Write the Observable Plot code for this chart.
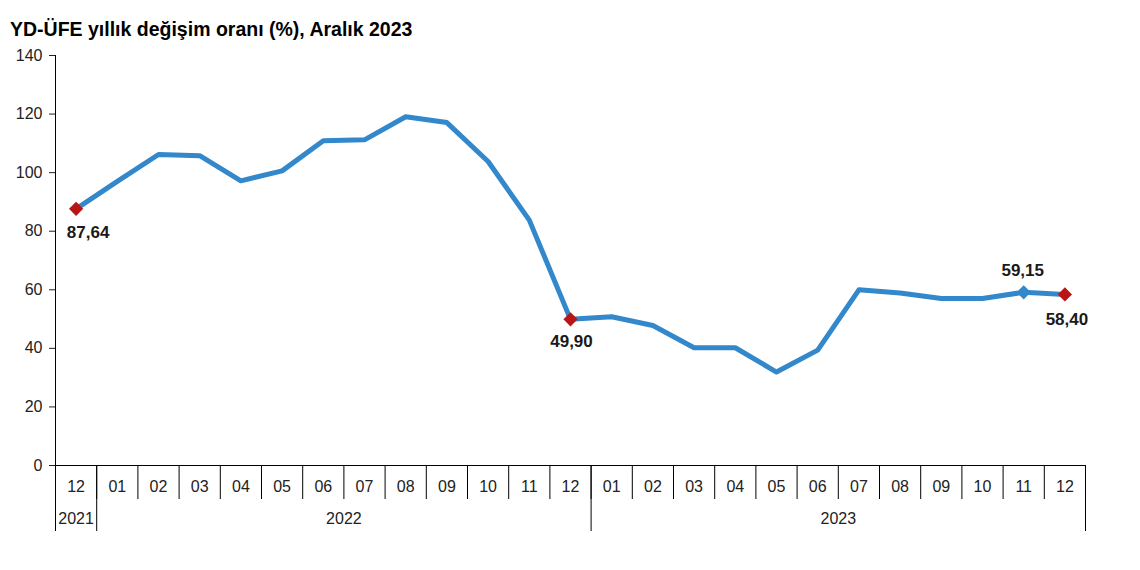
<!DOCTYPE html>
<html>
<head>
<meta charset="utf-8">
<script src="https://cdn.jsdelivr.net/npm/d3@7"></script>
<script src="https://cdn.jsdelivr.net/npm/@observablehq/plot@0.6"></script>
<style>
  body { margin: 0; background: #fff; font-family: "Liberation Sans", Arial, sans-serif; }
  #title { height: 40px; box-sizing: border-box; padding: 18px 0 0 10px; font-weight: bold; font-size: 19.5px; line-height: 22px; color: #000; }
</style>
</head>
<body>
<div id="title">YD-ÜFE yıllık değişim oranı (%), Aralık 2023</div>
<div id="chart"></div>
<script>
// Data
const months = ["12","01","02","03","04","05","06","07","08","09","10","11","12",
                "01","02","03","04","05","06","07","08","09","10","11","12"];
const years = ["2021","2022","2022","2022","2022","2022","2022","2022","2022","2022","2022","2022","2022",
               "2023","2023","2023","2023","2023","2023","2023","2023","2023","2023","2023","2023"];
const values = [87.64, 97.0, 106.2, 105.8, 97.2, 100.6, 110.9, 111.2, 119.1, 117.1, 103.8, 83.8, 49.90,
                50.8, 47.8, 40.2, 40.2, 31.9, 39.4, 60.0, 58.9, 57.0, 57.0, 59.15, 58.40];
const yTicks = [0, 20, 40, 60, 80, 100, 120, 140];
// Highlighted points and their labels
const highlightIdx = [0, 12, 23, 24];
const highlightLabels = ["87,64", "49,90", "59,15", "58,40"];
const highlightKind = ["red", "red", "blue", "red"];

const data = months.map((m, i) => ({i, month: m, year: years[i], value: values[i]}));

const RED = "#B91515", BLUE = "#3288CA";
const labelOffsets = [{dx: 12, dy: 24}, {dx: 1, dy: 22}, {dx: -1, dy: -22}, {dx: 2, dy: 25}];
const highlights = highlightIdx.map((idx, k) => ({
  i: idx, value: values[idx], label: highlightLabels[k],
  fill: highlightKind[k] === "red" ? RED : BLUE, ...labelOffsets[k]
}));

// Separators of the category table
const monthBounds = data.map(d => d.i - 0.5).concat([data.length - 0.5]);
const yearBounds = [-0.5];
data.forEach((d, k) => { if (k > 0 && d.year !== data[k - 1].year) yearBounds.push(d.i - 0.5); });
yearBounds.push(data.length - 0.5);
const yearGroups = Array.from(d3.group(data, d => d.year), ([year, arr]) => ({year, i: d3.mean(arr, d => d.i)}));

const FONT = "'Liberation Sans', Arial, sans-serif";
const plot = Plot.plot({
  width: 1140,
  height: 500,
  marginTop: 15,
  marginBottom: 75,
  marginLeft: 55,
  marginRight: 55,
  style: {fontFamily: FONT, fontSize: "16px", color: "#222", background: "#fff", overflow: "visible"},
  x: {domain: [-0.5, data.length - 0.5], axis: null},
  y: {domain: [0, 140], ticks: yTicks, tickSize: 6, tickPadding: 7, label: null, tickFormat: d => d},
  marks: [
    Plot.ruleX([monthBounds[0]], {stroke: "#000", strokeWidth: 1}),
    Plot.ruleY([0], {stroke: "#000", strokeWidth: 1}),
    Plot.ruleX(monthBounds, {x: d => d, y1: 0, y2: 0, insetBottom: -34, stroke: "#000", strokeWidth: 1}),
    Plot.ruleX(yearBounds, {x: d => d, y1: 0, y2: 0, insetBottom: -66, stroke: "#000", strokeWidth: 1}),
    Plot.text(data, {x: "i", text: "month", frameAnchor: "bottom", dy: 26, fontSize: 16, fill: "#222"}),
    Plot.text(yearGroups, {x: "i", text: "year", frameAnchor: "bottom", dy: 58, fontSize: 16, fill: "#222"}),
    Plot.line(data, {x: "i", y: "value", stroke: BLUE, strokeWidth: 5, strokeLinejoin: "round"}),
    Plot.dot(highlights, {x: "i", y: "value", symbol: "diamond2", r: 6.4, fill: "fill", stroke: "none"}),
    ...highlights.map(h => Plot.text([h], {x: "i", y: "value", text: "label", dx: h.dx, dy: h.dy,
      fontWeight: "bold", fontSize: 17, fill: "#1a1a1a"}))
  ]
});
document.getElementById("chart").appendChild(plot);
</script>
</body>
</html>
